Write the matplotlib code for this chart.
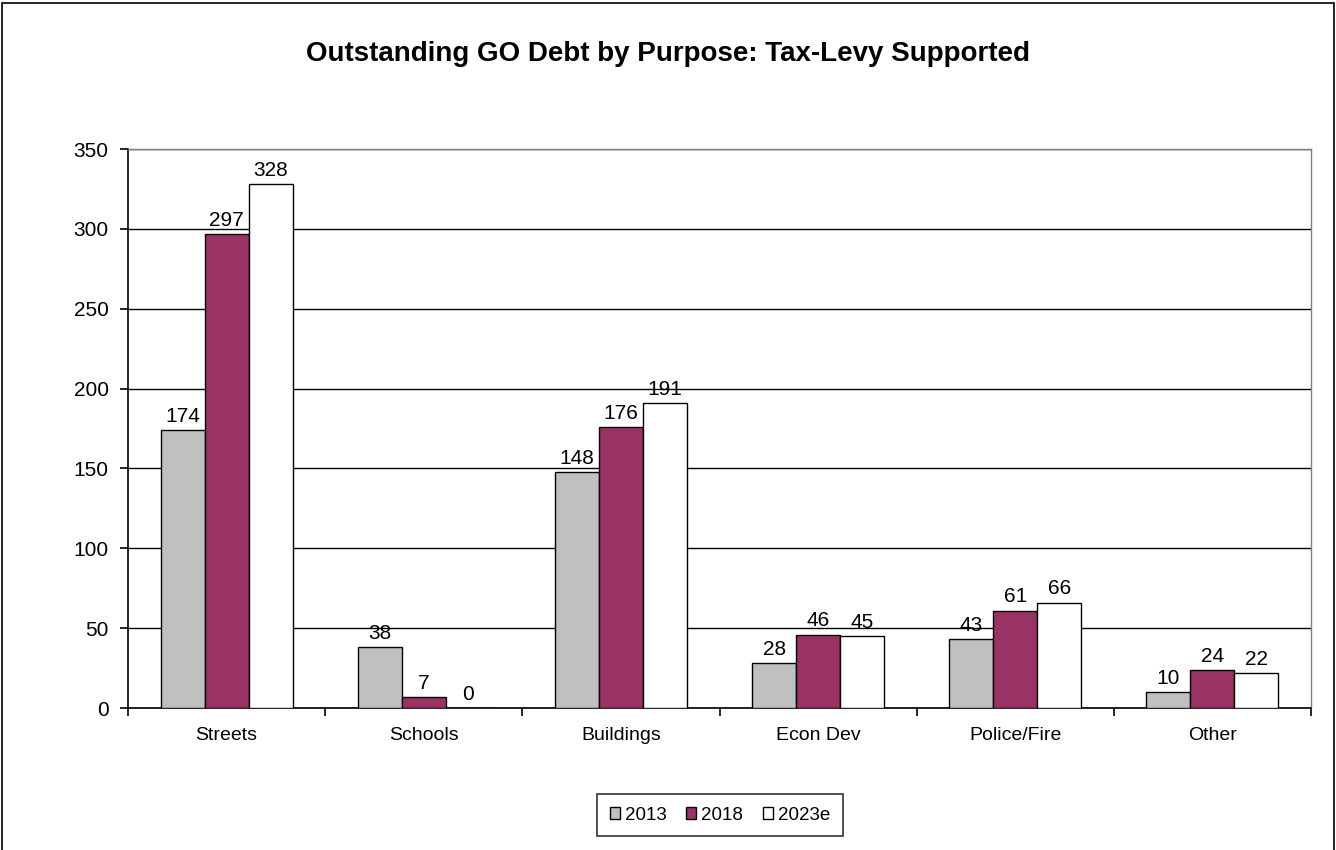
import matplotlib.pyplot as plt
import numpy as np
from matplotlib.patches import Rectangle

plt.rcParams['font.family'] = ['Liberation Sans', 'DejaVu Sans']

# Data
categories = ["Streets", "Schools", "Buildings", "Econ Dev", "Police/Fire", "Other"]
series_names = ["2013", "2018", "2023e"]
values_2013 = [174, 38, 148, 28, 43, 10]
values_2018 = [297, 7, 176, 46, 61, 24]
values_2023 = [328, 0, 191, 45, 66, 22]
colors = ["#C0C0C0", "#993366", "#FFFFFF"]

fig = plt.figure(figsize=(13.36, 8.5), dpi=100)
ax = fig.add_axes([0.0958, 0.167, 0.8855, 0.6576])

# Figure border
fig.patches.append(Rectangle((0.0015, -0.01), 0.997, 1.007, transform=fig.transFigure,
                             fill=False, edgecolor="black", linewidth=1.2))

x = np.arange(len(categories))
bar_width = 0.223
for i, (vals, col, name) in enumerate(zip([values_2013, values_2018, values_2023],
                                           colors, series_names)):
    pos = x + (i - 1) * bar_width
    bars = ax.bar(pos, vals, width=bar_width, color=col, edgecolor="black",
                  linewidth=1.0, label=name, zorder=3)
    for b, v in zip(bars, vals):
        ax.annotate(str(v), (b.get_x() + b.get_width() / 2, v),
                    xytext=(0, 3), textcoords="offset points",
                    ha="center", va="bottom", fontsize=15, zorder=4)

ax.set_xlim(-0.5, len(categories) - 0.5)
ax.set_ylim(0, 350)
ax.set_yticks(np.arange(0, 351, 50))
ax.yaxis.grid(True, color="black", linewidth=1.0, zorder=0)
ax.set_axisbelow(True)

ax.set_xticks(x)
ax.set_xticklabels(categories, fontsize=14)
ax.tick_params(axis="x", length=0, pad=14)
ax.set_xticks(np.arange(-0.5, len(categories)), minor=True)
ax.tick_params(axis="x", which="minor", length=6, width=1.2, direction="out")
ax.tick_params(axis="y", labelsize=15, length=6, width=1.2, direction="out", pad=8)

for s in ["top", "right"]:
    ax.spines[s].set_color("#808080")
    ax.spines[s].set_linewidth(1.0)
for s in ["left", "bottom"]:
    ax.spines[s].set_color("black")
    ax.spines[s].set_linewidth(1.2)

fig.text(0.5, 0.936, "Outstanding GO Debt by Purpose: Tax-Levy Supported",
         ha="center", va="center", fontsize=20, fontweight="bold")

leg = fig.legend(loc="center", bbox_to_anchor=(0.539, 0.041), ncol=3,
                 fontsize=13.5, frameon=True, fancybox=False, edgecolor="black",
                 handlelength=0.53, handleheight=0.53, handletextpad=0.27,
                 columnspacing=1.07, borderpad=0.65)
leg.get_frame().set_linewidth(1.2)

fig.savefig("out.png", dpi=100)
